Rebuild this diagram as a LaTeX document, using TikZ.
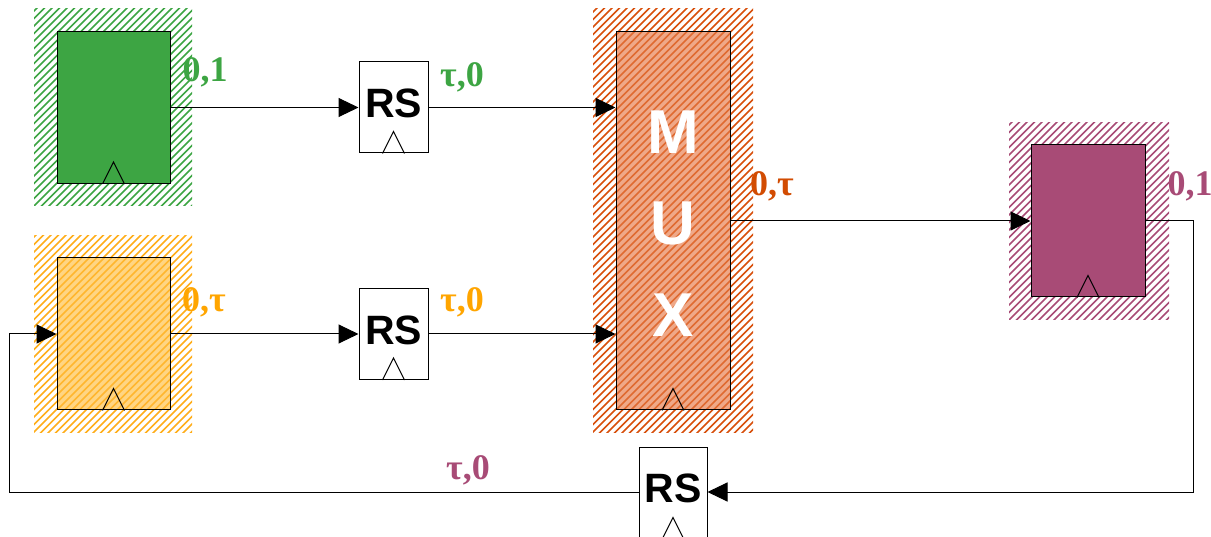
\documentclass[tikz,border=0pt]{standalone}
\usepackage{fontspec}
\usetikzlibrary{arrows.meta,calc}
\newfontfamily\lserif{Liberation Serif}
\newfontfamily\lsans{Liberation Sans}
\definecolor{gfill}{HTML}{3DA543}
\definecolor{gline}{HTML}{3DA543}
\definecolor{yfill}{HTML}{FFD583}
\definecolor{yline}{HTML}{FFAE1A}
\definecolor{ylab}{HTML}{FFA500}
\definecolor{mfill}{HTML}{EFA888}
\definecolor{mline}{HTML}{D8500C}
\definecolor{mlab}{HTML}{D24C02}
\definecolor{pfill}{HTML}{A84B76}
\definecolor{pline}{HTML}{A84B76}
\newcommand\hatchbox[5]{%
  \begin{scope}
    \clip (#1,#2) rectangle (#3,#4);
    \foreach \k in {0,7.5,...,1000}
      \draw[#5, line width=1.5pt] (#1-500+\k,#4+20) -- ++(700,-700);
  \end{scope}}
\newcommand\clk[1]{\draw[line width=1pt] ($(#1.south)+(-11,0)$) -- ($(#1.south)+(0,-22)$) -- ($(#1.south)+(11,0)$);}
\tikzset{
  reg/.style={draw, line width=1pt, inner sep=0pt, minimum width=113pt, minimum height=152pt},
  rsbox/.style={draw, line width=1pt, fill=white, inner sep=0pt, minimum width=69pt, minimum height=91pt},
  rstext/.style={font=\lsans\bfseries\fontsize{41}{41}\selectfont, inner sep=0pt},
  muxtext/.style={font=\lsans\bfseries\fontsize{62}{62}\selectfont, text=white, inner sep=0pt},
  lab/.style={font=\lserif\bfseries\fontsize{36}{36}\selectfont, inner sep=0pt},
  arr/.style={line width=1pt, -{Triangle[length=20pt,width=19pt]}},
  wire/.style={line width=1pt}
}
\begin{document}
\begin{tikzpicture}[x=1pt,y=-1pt]
\useasboundingbox (0,0) rectangle (1211,537);
\clip (0,0) rectangle (1211,537);
\fill[white] (0,0) rectangle (1211,537);
% halos
\hatchbox{34}{9}{192}{206}{gline}
\hatchbox{34}{236}{192}{432}{yline}
\hatchbox{593}{9}{753}{432}{mline}
\hatchbox{1009}{123}{1169}{320}{pline}
% green register
\node[reg, fill=gfill] (g) at (113.5,107.5) {};
\clk{g}
% yellow register
\fill[yfill] (57,258) rectangle (170,410);
\hatchbox{57}{258}{170}{410}{yline!80!yfill}
\node[reg] (y) at (113.5,334) {};
\clk{y}
% mux
\fill[mfill] (616,32) rectangle (730,410);
\hatchbox{616}{32}{730}{410}{mline!70!mfill}
\node[reg, minimum width=114pt, minimum height=378pt] (mux) at (673,221) {};
\clk{mux}
\node[muxtext] (mM) at (673,132) {M};
\node[muxtext] (mU) at (673,223) {U};
\node[muxtext] (mX) at (673,315) {X};
% purple register
\node[reg, minimum width=114pt, fill=pfill] (p) at (1088,221) {};
\clk{p}
% RS boxes
\node[rsbox] (rs1) at (393.5,107.5) {};
\node[rstext] (rs1t) at (393.5,103) {RS};
\clk{rs1}
\node[rsbox] (rs2) at (393.5,334) {};
\node[rstext] (rs2t) at (393.5,330) {RS};
\clk{rs2}
\node[rsbox, minimum width=68pt, minimum height=92pt] (rs3) at (673,493) {};
\node[rstext] (rs3t) at (673,488) {RS};
\clk{rs3}
% connectors
\draw[arr] (g.east) -- (rs1.west);
\draw[arr] (rs1.east) -- (mux.west |- rs1.east);
\draw[arr] (y.east) -- (rs2.west);
\draw[arr] (rs2.east) -- (mux.west |- rs2.east);
\draw[arr] (mux.east) -- (p.west);
\coordinate (c1) at (1193,221);
\coordinate (c2) at (1193,492);
\coordinate (c3) at (9,492);
\coordinate (c4) at (9,334);
\draw[arr] (p.east) -- (c1) -- (c2) -- (rs3.east |- c2);
\draw[arr] (rs3.west |- c3) -- (c3) -- (c4) -- (y.west);
% labels
\node[lab, text=gline] (l1) at (205,72) {0,1};
\node[lab, text=gline] (l2) at (462,77) {τ,0};
\node[lab, text=ylab] (l3) at (204,302) {0,τ};
\node[lab, text=ylab] (l4) at (462,302) {τ,0};
\node[lab, text=mlab] (l5) at (772,186) {0,τ};
\node[lab, text=pline] (l6) at (1190,186) {0,1};
\node[lab, text=pline] (l7) at (468,470) {τ,0};
\end{tikzpicture}
\end{document}
